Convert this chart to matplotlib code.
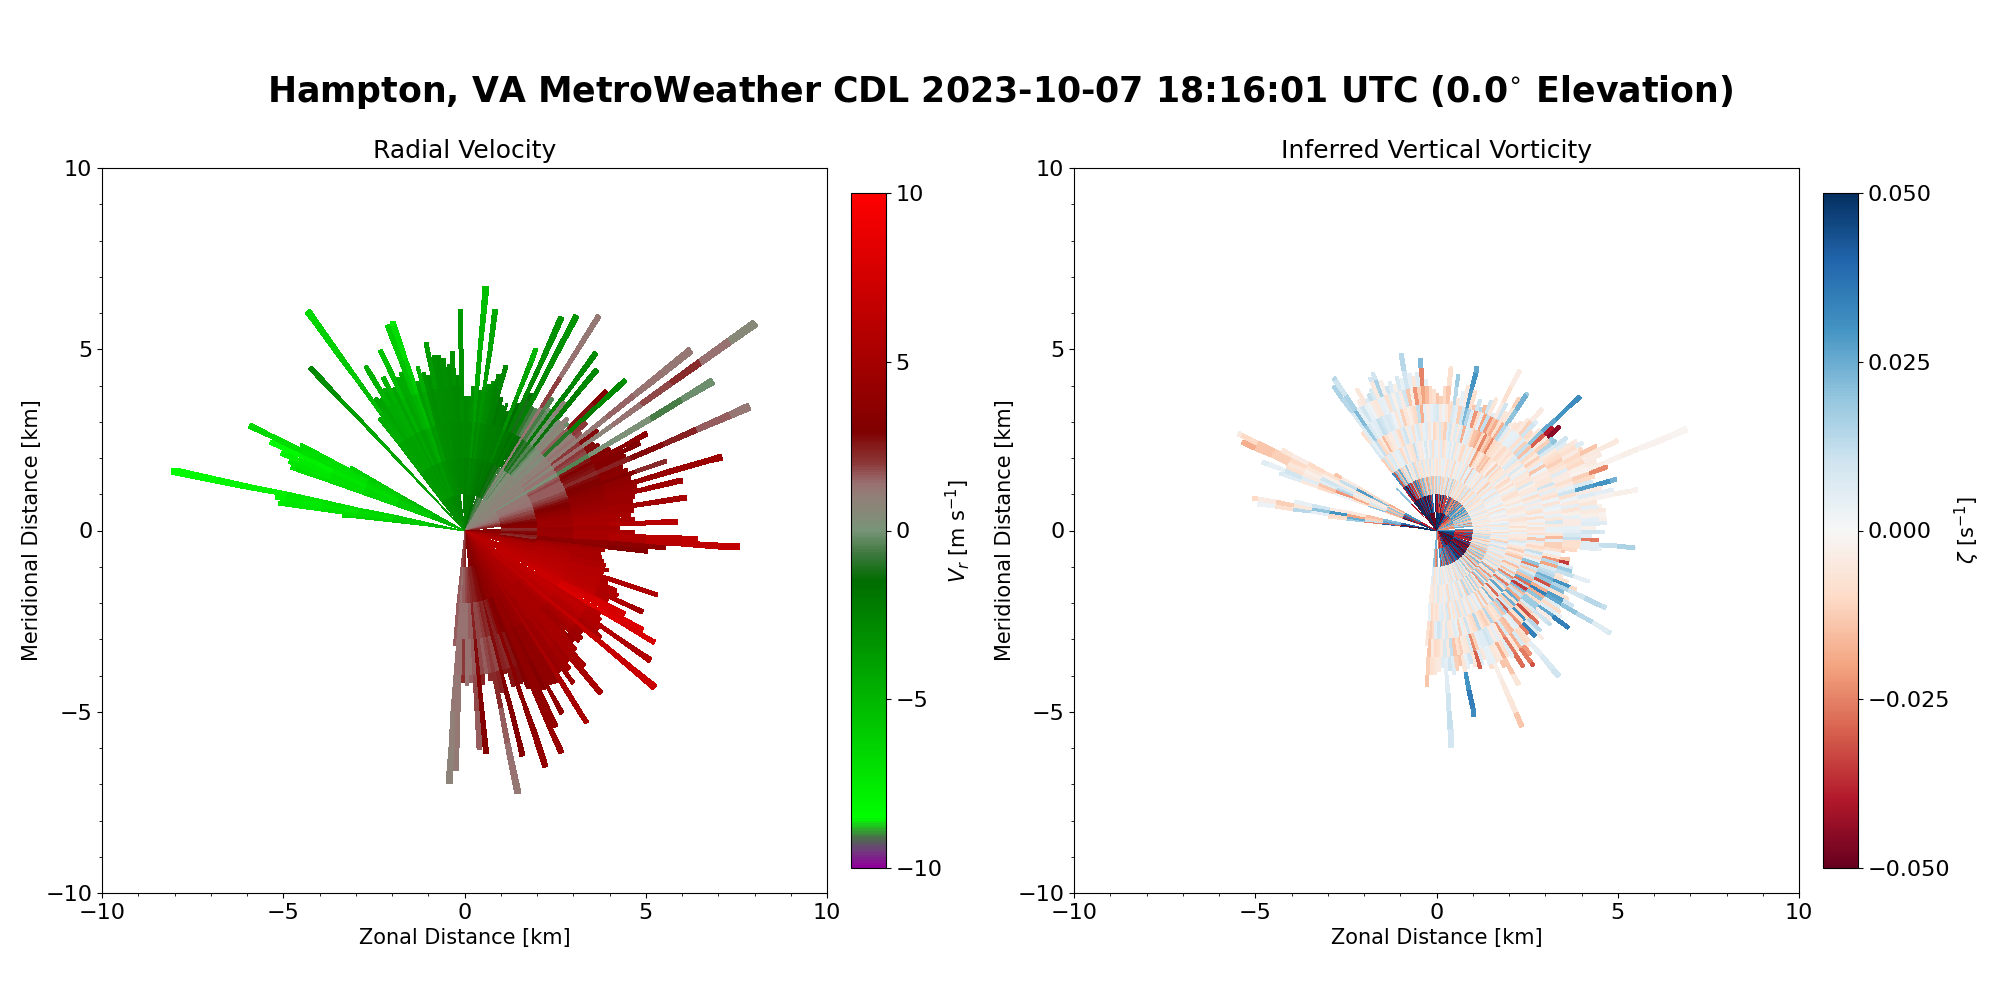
import numpy as np
import matplotlib
matplotlib.use("Agg")
import matplotlib.pyplot as plt
from matplotlib.colors import LinearSegmentedColormap

TITLE = r"Hampton, VA MetroWeather CDL 2023-10-07 18:16:01 UTC (0.0$^{\circ}$ Elevation)"
RING_V = 1.0   # km per velocity value along a ray
RING_Z = 0.5   # km per vorticity value along a ray

azimuths = [277,278.5,280,281.5,290,291.5,293,294.5,296,297.5,299,316.5,
 323,324.5,326,327.5,329,330.5,332,333.5,335,336.5,338,339.5,341,342.5,344,345.5,347,348.5,350,351.5,353,354.5,356,357.5,359,
 0.5,2,3.5,5,6.5,8,9.5,11,12.5,14,15.5,17,18.5,20,21.5,23,24.5,26,27.5,29,30.5,32,33.5,35,36.5,38,39.5,41,42.5,44,45.5,47,48.5,
 50,51.5,53,54.5,56,57.5,59,60.5,62,63.5,65,66.5,68,69.5,71,72.5,74,75.5,77,78.5,80,81.5,83,84.5,86,87.5,89,90.5,92,93.5,95,96.5,98,99.5,
 101,102.5,104,105.5,107,108.5,110,111.5,113,114.5,116,117.5,119,120.5,122,123.5,125,126.5,128,129.5,131,132.5,134,135.5,137,138.5,140,141.5,143,144.5,146,147.5,149,150.5,
 152,153.5,155,156.5,158,159.5,161,162.5,164,165.5,167,168.5,170,171.5,173,174.5,176,177.5,179,180.5,182,183.5,185]

vel_range = [3.4,5.2,5.3,8.25,5.1,5.2,5.5,5.9,6.6,5.1,3.6,6.2,
 3.9,7.44,4.4,4.3,5.3,4.5,4.8,4.4,5.5,4.6,4.7,6.05,6.1,4.3,4.7,4.5,4.4,5.3,4.9,4.9,4.8,4.6,4.95,4.3,6.1,
 3.7,3.7,4.0,6.76,3.9,6.16,4.1,4.2,4.4,4.7,3.8,3.6,3.7,3.5,5.4,3.8,6.47,4.2,6.68,3.9,3.9,7.0,4.4,4.1,6.1,4.5,5.74,4.0,4.2,4.1,5.5,6.08,4.5,
 4.2,8.0,4.6,9.85,4.3,4.4,8.0,4.6,5.7,5.4,4.9,8.57,4.7,4.8,5.9,4.8,7.39,4.9,6.17,4.8,4.7,6.2,4.7,4.6,4.7,5.9,4.3,4.7,6.45,7.62,5.57,5.1,3.9,3.8,
 3.85,3.92,4.0,4.12,4.0,5.62,4.2,4.5,4.6,5.42,4.4,5.0,5.64,6.08,4.4,4.5,6.25,4.6,4.78,6.81,4.3,4.4,4.4,4.3,4.5,5.0,5.86,4.6,4.8,5.18,4.7,6.3,4.9,4.86,
 5.72,4.9,5.98,6.7,4.7,4.5,6.89,4.5,4.1,6.43,4.6,7.4,4.2,4.0,4.3,6.2,6.07,4.2,4.3,4.2,6.64,7.0,3.2]

vel_rings = [
 [-5,-5.5,-6.2,-6.5],[-5,-6,-6.5,-7,-7.3,-7.5],[-5.5,-6,-6.8,-7.2,-7.5,-7.8],[-5,-6,-6.5,-7,-7.3,-7.8,-8,-8.2,-8.3],
 [-5,-5.8,-6.3,-6.8,-7,-7.2],[-5,-6,-6.5,-7,-7.3,-7.3],[-5,-6,-6.6,-7,-7.5,-7.8],[-5,-6,-6.8,-7.3,-7.8,-8.2],[-5,-5.8,-6.5,-7,-7,-6.8,-6.5],[-4.8,-5.5,-6.2,-6.8,-6.8,-6.5],[-4.5,-5.2,-6,-6.2],
 [-3.5,-4,-4,-4.2,-3.8,-3,-2.6],
 [-3,-3.5,-4,-4.5],[-3.2,-3.8,-4.2,-4.6,-5.2,-5.8,-6.2,-6.6],[-3,-3.6,-4,-4.4,-4.2],[-3,-3.5,-4,-4.2,-4.1],[-3,-3.6,-4,-4.4,-4.8,-4.6],[-3,-3.5,-4,-4.5,-4.4],[-3,-3.6,-4.1,-4.6,-4.8],[-3,-3.4,-3.8,-4.1,-4.2],
 [-3,-3.5,-4.2,-4.8,-5.2,-5.6],[-3,-3.4,-3.8,-4.2,-4.4],[-2.8,-3.3,-3.8,-4.4,-4.5],[-2.8,-3.5,-4.2,-4.8,-5.4,-6,-6.3],[-2.8,-3.6,-4.5,-5.2,-6,-6.8,-7.4],[-2.8,-3.2,-3.5,-3.8,-3.9],[-2.8,-3.2,-3.6,-4.2,-4.6],
 [-2.6,-3,-3.2,-3.2,-3.4],[-2.6,-2.9,-3,-3,-3.1],[-2.6,-2.9,-3,-3.2,-3.6,-3.9],[-2.5,-2.8,-2.9,-3,-3.1],[-2.5,-2.8,-3,-3,-3],[-2.5,-2.7,-2.8,-2.9,-3.1],[-2.4,-2.6,-2.8,-2.9,-2.9],[-2.4,-2.6,-2.7,-2.8,-3.2],[-2.4,-2.6,-2.6,-2.7,-2.8],[-2.4,-2.6,-2.8,-3,-3.2,-3.6,-3.8],
 [-2.3,-2.5,-2.7,-2.8],[-2.3,-2.5,-2.7,-2.9],[-2.3,-2.5,-2.8,-3.2],[-2.4,-2.8,-3.4,-3.8,-4.4,-5,-5.4],[-2.2,-2.5,-2.8,-3],[-2.2,-2.6,-3,-3.4,-3.8,-4.2,-4.4],[-2.2,-2.4,-2.6,-2.9,-3],[-2.2,-2.4,-2.6,-2.8,-2.9],[-2,-2.2,-2.4,-2.5,-2.6],
 [-1.8,-2.2,-2.3,-2.4,-2.7],[-1.6,-2,-2.3,-2],[-1.5,-2.1,-2.3,-2.2],[-1.3,-2,-2.2,-2.1],[-1,-1.8,-2.1,-1.8],[-1.2,-2,-2.6,-3.2,-4,-5],[-.8,-1.6,-2,-1.5],[-.8,-1.4,-2,-2.4,-2.8,-3.2,-3.4],[-.4,-1.2,-1.6,-1.2,-1.4],[-.6,-1.4,-2,-2.4,-2.8,-3.1,-3.3],
 [.2,-.8,-1.6,-.8],[.3,-.6,-1.5,-.4],[.5,.6,1,1.3,1.9,1.4,1.2,.9],[.4,-.2,-1.2,-.6,-.4],[.4,.2,-.8,-.2,.3],[.4,-.4,-1.2,-1.8,-2.4,-2.8,-3],[.5,.4,-.4,.2,.8],[.5,.2,-.8,-1.4,-2.2,-2.8],[.5,.5,-.2,.3],[.6,.6,.2,.8,1],[.6,.7,.3,.6,-.2],
 [.6,.5,.8,1.6,2.6,3.2],[.6,.4,.3,-1,-2.2,-2.8,-3.2],[.7,.8,.8,1,2],[.7,.9,1,1.3,1.8],[.7,.6,.8,1,1.2,1.5,1.3,1.2],[.8,1,1.3,2,2.8],[.7,.5,.6,1.4,.8,1.3,1.8,2.2,1.4,.6],[.8,1,1.3,2,2.8],[.8,1,1.3,1.8,2.8],
 [.5,.2,.1,-.4,.1,.2,-.6,-.1],[.9,1.2,1.6,2.6,3.2],[1,1.2,1.8,3,3.4,3.6],[1,1.2,1.6,2.8,3.2,3],[1,1.2,1.6,2.6,3.2],[1,1.3,1.6,2.2,2.4,2.8,2.4,1.6,1.2],[1,1.3,1.6,2.8,3.4],[1.1,1.4,1.8,3,3.6],[1.2,1.5,2,3,3.2,2.2],[1.3,1.6,2.4,3.4,3.8],[1.4,1.8,2.8,3.6,4,4.2,4.4,4.6],[1.5,1.8,3,3.8,4.2],
 [1.6,2,3.2,4,4.4,4.6,4.6],[1.8,2.2,3.6,4.2,4.4],[2,2.4,3.8,4.4,4.4],[2.2,2.8,4.2,4.6,4.8,4.8,5.2],[2.4,3,4.4,4.8,4.8],[2.6,3.2,4.6,5,5],[2.8,3.4,4.6,5,5],[3,3.6,4.8,5.2,5.6,6],[3,2.2,4.2,4.8,4.8],[3.2,2.4,4.4,5,5.2],
 [3.4,2.8,4.4,5,5.6,6.2,6.4],[3.6,3,4.6,5,5.4,6,6.4,6.6],[3.8,2.4,3.6,3.8,3.6,3.6],[4,2.2,3.4,3.6,3.2,3.2],[4.4,3.4,4.6,4.8],[4.6,4.2,5,5],[5,5,5.2,5.2],[5.2,5.2,5.4,5],[5.2,5.4,5.6,5.4,4.8],[5.4,5.4,5.6,5.4,4.8],[5.4,5.6,5.8,5.8],[5.6,5.8,6,5.8,5.4,5.4],
 [5.8,6,6,5.8,5.2],[5.8,6,6.2,6,5.4],[5.8,6.2,6.2,6,5.6],[6,6.2,6.4,6.2,5.4,4.8],[6,6.4,6.6,6.4,5.6],[6,6.4,7,7.4,7.6,7.2],[6,6.4,7,7.6,7.8,8,7.8],[6.2,6.4,7.2,8,8.2,7.8,7.6],[6,6.2,6.4,6.2,5.8],[6,6.4,6.6,6.4,5.6],[6,6.2,6.4,6.2,5.6,5.4,5.6],[5.8,6,6.2,5.8,5.4],[5.8,6,6,5.6,5],[5.8,6.4,6.6,6.6,6.6,6.8,7],[5.6,5.8,5.8,5.4,4.8],
 [5.6,5.6,5.4,5,4.6],[5.4,5.4,5.2,4.8,4.6],[5.4,5.2,5,4.6,4.2],[5.4,5.4,5.2,5,5],[5.2,5.4,5.2,5,5,5],[5.2,5.2,5,5,5,5],[5,5,5,4.8,4.6],[5,5,5,5,4.8],[5,5,4.8,4.6,4.4,4.4],[4.8,4.8,4.6,4.4,4.2],[4.8,5,5,5,5,5,5],[4.6,4.6,4.4,4,3.8],[4.6,4.4,4.2,3.8,3.8],
 [4.4,4.4,4.2,4,3.8,3.8],[4.4,4.2,3.8,3.4,3.2],[4.2,4.2,4,3.8,3.8,4],[4,4,4,3.8,3.8,4,4.2],[4,3.8,3.2,3,3.2],[3.8,3.6,3,2.6,2.8],[3.8,3.6,3.4,3.4,3.4,3.6,4],[3.6,3.4,2.6,2.2,2.6],[3.4,3,2.4,2.4,2.6],[3.4,3,2.8,2.8,3,3.2,3.2],[3.2,2.8,2.2,1.8,2.4],[3.2,2.8,2.4,2,2.2,1.6,1.4,1.2],
 [3.2,2.6,2,1.8,2.2],[3,2.4,1.8,1.6],[3,2.4,1.8,1.8,2.4],[2.8,2.2,2.4,2.8,3.2,3.2,3.2],[2.6,2,1.6,1.6,1.8,1.6,1.6],[2.6,2,1.6,1.4,1.6],[2.4,1.8,1.4,1.4,1.4],[2.2,1.6,1.4,2,2.2],[2.2,1.6,1.4,1.4,1.2,1.2,1.1],[2,1.4,1.4,1.4,1.2,1,.8,.8],[1.8,1.6,1.6],
]

vort_range = [3.0,5.0,5.15,4.0,4.6,5.18,4.5,5.9,6.1,4.8,3.2,1.6,
 3.4,4.9,5.09,4.0,4.2,4.5,4.1,4.2,4.3,4.6,4.7,4.4,4.2,4.3,4.2,4.4,4.3,4.98,4.4,4.3,4.4,4.78,4.2,4.0,3.9,
 3.8,3.7,4.0,4.56,3.6,4.35,3.7,3.9,4.1,4.65,4.0,3.6,3.8,3.6,3.7,3.9,4.02,3.6,4.98,4.0,3.8,4.3,4.54,3.6,3.7,3.8,4.0,4.46,4.1,3.8,4.0,5.43,4.3,
 4.45,4.1,4.14,4.41,4.3,4.6,4.7,4.6,5.0,5.6,5.0,4.8,7.45,5.03,4.6,4.5,5.17,4.7,5.0,5.66,4.5,4.6,4.7,4.7,4.7,4.71,4.4,4.66,4.3,4.5,5.51,4.6,3.9,3.6,
 3.5,3.76,3.76,3.9,3.9,4.44,3.7,3.9,4.2,5.14,3.9,4.1,4.3,5.59,4.0,4.1,4.2,4.53,4.0,4.1,3.7,3.8,4.0,4.2,4.0,3.8,5.26,4.1,4.3,4.59,4.0,4.45,4.1,4.0,
 4.84,4.2,4.0,5.91,4.1,3.8,3.9,4.0,3.9,3.8,3.9,5.23,3.8,3.9,4.0,3.9,6.02,3.8,3.9,4.0,4.0,4.31,3.2]

# one value per 0.5 km along each ray, in units of 0.001 s^-1
vort_rings = [
 [60,-50,40,-25,18,-8],[-60,45,-30,12,25,-10,5,14,-8,3],[50,-60,25,-12,-20,30,20,-6,-12,-4,-10],[-50,40,22,-15,-6,-4,10,4],
 [40,-30,-14,20,-6,3,-10,-5,6,8],[-45,50,-20,-10,-18,-22,-14,6,10,4,6],[60,-40,18,8,-6,14,6,-5,-8],[-50,40,-15,-4,4,8,10,-3,-6,-12,-14,-18],[45,-35,20,-5,-8,-4,-3,-6,-10,-12,-14,-10,-4],[-40,30,-12,22,28,12,-8,-10,-4,-6],[35,-28,-18,-10,-8,-4,-14],[30,-40,20],
 [-60,50,-40,32,-12,8,-8],[60,-55,45,-30,10,4,6,8,14,16],[-55,60,-50,20,-8,12,18,22,16,10,14],[50,-60,35,-15,6,-10,8,4],[-60,50,-40,25,8,-6,5,10,-4],[55,-55,30,-12,-5,-16,6,4,-6],[-50,45,-35,10,5,-8,12,3,6],[55,-60,20,-8,4,-5,10,-5,12],[-60,45,-30,18,6,-4,7,-6,8],[50,-50,35,-5,-10,4,8,5,-5,9],[-55,55,-25,8,-4,-6,6,4,16,10],[60,-45,30,-6,8,-10,3,-8,-3],[-50,50,-25,12,-5,6,-6,7,10],
 [55,-55,20,-10,-6,10,4,-3,6],[-60,40,-18,6,-8,-5,-12,6,-3],[50,-50,22,-8,12,5,-6,-4,8],[-55,60,-15,-6,6,-8,-3,10,4],[60,-40,12,8,-4,5,-7,-14,10,14],[-50,45,-20,-6,-5,8,-10,-3,5],[55,-35,18,7,3,-6,12,-22,-6],[-60,40,-12,-6,8,4,-18,-12,6],[45,-55,16,8,-3,6,5,-20,-25,22],[-50,45,-15,-5,6,-6,-4,-16,4],[55,-30,10,6,-8,3,4,-10],[-45,50,-14,-4,5,-10,6,-8],
 [60,-40,15,-7,4,-6,8,-14],[-55,35,-10,5,-5,8,-4,-12],[50,-45,12,-6,6,-9,3,-10],[-60,30,-14,4,-8,-12,-5,-14,-8,-6],[55,-35,9,5,-5,6,-10,-8],[-45,50,-12,-4,4,10,8,14,18,14],[60,-30,10,-8,6,-4,5,-6],[-50,40,-8,6,-3,7,-12,4],[45,-45,12,-5,8,-5,10,-4,-6],[-55,30,-16,5,-6,8,22,28,30,26],
 [50,-35,10,-10,4,-18,14,-8],[-40,45,-8,4,-7,5,6,-14],[55,-30,15,-5,-10,6,-22,10],[-50,35,-10,6,5,-8,-10,14],[45,-25,-12,4,-6,-14,5,-16],[-55,40,8,-6,4,-15,-20,10],[40,-35,-10,6,-8,-18,12,-6],[-45,30,7,-12,5,-10,-22,6],[50,-25,-8,4,-20,-24,-14,-4,-8,-4],
 [-40,35,-9,5,-10,-12,-18,10],[45,-30,8,-15,-5,-16,-8,-6],[-35,40,-7,6,-8,-24,-18,-6,-12],[40,-22,-10,5,-14,-10,14,20,24,18],[-30,35,12,-6,-12,-8,6,-5],[45,-28,-7,4,-16,-8,-5,-6,4],[-38,30,9,-5,-8,-6,4,-7],[40,-25,-12,5,-6,-10,4,-5,-3],[-30,35,8,-10,-3,-8,5,-12,-4],
 [35,-20,-6,6,-12,-5,-8,10,6],[-40,28,-10,-5,4,-8,6,-10],[-28,30,-8,5,-10,-5,-12,-6,-4],[30,-32,7,-8,-6,6,12,20,26,30,32],
 [35,-18,6,-12,-5,8,-15,-30,-40],[-30,25,-10,4,-6,-6,8,-5,-45],[35,-20,-5,-8,6,-4,-10,-12,18],[-28,30,8,-6,-4,8,-5,15,20],[32,-16,-8,5,-10,-3,-12,8,10],[-25,28,-6,4,-8,4,-6,-5,6,8],[30,-15,5,-9,-3,-6,5,-8,-6,-4],[-30,22,-4,6,-8,-5,-14,-10,-8,6],[25,-18,-8,4,-3,-7,3,-12,-4,-10],[-22,28,6,-5,4,-6,-5,-8,-10,-14,-8],[28,-14,-7,3,-6,8,-4,-6,-8,-5],[-25,20,5,-4,-8,-3,-6,6,-10,-4],[-20,22,-4,3,-7,-5,-6,-4,-3,-5],[24,-18,-6,6,-3,-5,10,-4,-2,-3,-2,-3,-2,-2,-1],
 [22,-14,8,-6,-3,4,-5,-8,-12,-24],[-24,18,-5,3,-6,-9,5,-4,-10],[-18,22,4,-8,3,-5,-6,4,8],[20,-16,-6,4,-5,5,-8,10,28,30,24],[22,-12,-5,3,-6,-4,3,-8,-4,-5],[-20,18,6,-3,-5,4,-7,3,6,5],[18,-24,-4,5,-3,-6,4,-5,-3,-2,-3,-2],[-24,16,-6,-3,4,-8,3,5,-6],[26,-20,5,-5,-6,3,-4,-7,5,-3],
 [-22,24,-4,3,-7,-8,4,-3,-5],[28,-26,-8,6,-4,3,-6,4,-3,-2],[-30,24,5,-6,-3,-5,8,-4,5,-3],[32,-22,-6,4,-8,3,-5,-4,6],[-26,30,-4,5,-3,-7,4,4,-3,3],[30,-34,8,-3,-6,-4,4,5,10,8],[-35,28,-5,-10,4,-8,-6,8,6],[35,-30,-7,5,-4,4,-16,12,-26],
 [-40,36,12,-6,-5,-14,5,-8,6,12,16,3],[42,-38,-10,5,-8,6,-12,-8,6,4],[-44,40,12,-5,8,-5,-12,-10],[45,-36,12,-12,4,-10,-8,-14],[-46,40,-9,8,-5,-6,3,-10],[48,-42,-14,5,-7,12,-6,-14],[-38,44,8,-4,-12,5,-22,-35],[46,-38,-8,10,-4,-8,14,6],[-40,46,14,-6,-10,4,-20,18],[50,-42,-10,6,-14,20,8,12,5],
 [-48,44,12,-4,6,-25,12,-6],[50,-46,-16,8,-6,10,14,-8],[-52,40,14,-10,6,-12,24,30,-10],[54,-44,-18,6,-15,8,20,15,10,14,12],[-50,50,16,-10,-8,14,-32,22],[52,-46,-12,10,6,-16,10,-8],[-54,44,20,-8,-14,26,-18,28,10],[56,-50,-14,12,8,-28,34,26,20,14,6,8],[-50,48,18,-6,-24,14,-18,6],[52,-44,-20,8,16,-35,20,-10],
 [-56,46,12,-18,-6,22,-10,6,4],[54,-48,-10,22,10,-16,18,26,34,36],[-50,52,22,-8,-26,12,18,-4],[48,-56,-16,10,14,-20,8,10,12],[-54,44,14,-22,-8,25,-12,-6],[50,-50,-24,12,26,-8,-32,-28],[-52,46,10,-16,-6,24,-10,14],[56,-42,-12,20,8,-12,30,6,-4],[-50,50,20,-6,-28,10,-8,34],[48,-46,-14,18,6,-30,-22,-26],
 [-46,44,8,-22,-10,16,6,-8,5,8,10],[50,-40,-16,6,22,-14,4,-10,-6],[-44,48,18,-10,-5,12,-16,8,-22],[46,-38,-6,14,6,-8,-14,-18,-26,-32],[-50,40,12,-8,-14,-6,8,-5],[42,-44,-10,16,5,-10,-22,-26,-28],[-46,36,8,-6,-12,14,-5,6,4],[44,-38,-14,12,4,-8,5,-8],
 [-40,42,10,-8,6,-12,-4,-18,-14,-6],[42,-34,-6,14,-5,-10,8,-5,-14],[-38,36,8,-12,6,-6,10,-6],[40,-30,-10,5,-8,14,6,4,-3,-5,-6,-14],[-34,38,12,-6,5,-10,6,4,-8],[36,-30,-5,10,-4,-8,5,-6],[-40,32,6,-8,8,-5,-12,7],[34,-36,-8,5,-6,10,-24,-30],[-30,38,10,-4,8,-5,8,-6],[36,-28,-6,8,-10,4,-6,10],[-32,30,8,-5,6,-12,-5,4],[32,-30,-4,7,-6,4,-12,-6,30,35,32],
 [-36,26,5,-10,4,6,-8,-14],[30,-34,-8,6,-10,-5,-14,-12],[-28,32,6,-4,8,-6,12,6],[30,-26,-6,5,-4,8,-5,10],[-26,30,8,-5,6,-4,8,5,6,10,12,9,8],[28,-28,4,-6,5,8,-5,6],[-30,24,-5,8,-6,10,-8,-5],[26,-26,6,-4,-8,5,-10,-6],[-24,28,-5,6,-6,-10,-5,-8],[24,-22,-8,-6,-10,-12,-14,-12,-14],[-22,20,6,-5,4,-8,-5],
]

vel_nodes = [(-10,(0.56,0.00,0.60)),(-9.55,(0.45,0.22,0.50)),(-9.15,(0.30,0.42,0.30)),(-8.55,(0.00,1.00,0.00)),
             (-1.5,(0.00,0.43,0.00)),(-0.7,(0.24,0.47,0.24)),(0.0,(0.47,0.58,0.47)),(1.0,(0.57,0.50,0.47)),(1.4,(0.60,0.44,0.44)),
             (2.0,(0.55,0.22,0.22)),(2.95,(0.50,0.00,0.00)),(10,(1.00,0.00,0.00))]
vel_cmap = LinearSegmentedColormap.from_list("vr", [((v + 10) / 20, c) for v, c in vel_nodes], N=256)

BEAM = np.radians(1.3)

def draw_rays(ax, az_list, range_list, rings_list, ring_km, cmap, vmin, vmax, scale=1.0):
    mesh = None
    for az, rng, rings in zip(az_list, range_list, rings_list):
        th = np.radians(az)
        n = int(np.ceil(rng / ring_km))
        vals = (list(rings) + [rings[-1]] * n)[:n]
        edges = np.minimum(np.arange(n + 1) * ring_km, rng)
        x = np.vstack([edges * np.sin(th - BEAM / 2), edges * np.sin(th + BEAM / 2)])
        y = np.vstack([edges * np.cos(th - BEAM / 2), edges * np.cos(th + BEAM / 2)])
        c = np.array(vals, dtype=float)[None, :] * scale
        mesh = ax.pcolormesh(x, y, c, cmap=cmap, vmin=vmin, vmax=vmax, shading="flat",
                             antialiased=False, linewidth=0, edgecolors="none")
    return mesh

def style(ax, title):
    ax.set_xlim(-10, 10)
    ax.set_ylim(-10, 10)
    ax.set_xticks([-10, -5, 0, 5, 10])
    ax.set_yticks([-10, -5, 0, 5, 10])
    ax.minorticks_on()
    ax.tick_params(labelsize=16)
    ax.set_title(title, fontsize=18, pad=7)
    ax.set_xlabel("Zonal Distance [km]", fontsize=15)
    ax.set_ylabel("Meridional Distance [km]", fontsize=15, labelpad=2)

W, H = 2000.0, 1000.0
fig = plt.figure(figsize=(20, 10), dpi=100)
fig.suptitle(TITLE, fontsize=25, fontweight="bold", x=0.5, y=0.908, va="center")

ax1 = fig.add_axes([102 / W, 1 - 893 / H, 725 / W, 725 / H])
ax2 = fig.add_axes([1074 / W, 1 - 893 / H, 725 / W, 725 / H])
cax1 = fig.add_axes([851 / W, 1 - 868 / H, 35 / W, 675 / H])
cax2 = fig.add_axes([1823 / W, 1 - 868 / H, 35 / W, 675 / H])

m1 = draw_rays(ax1, azimuths, vel_range, vel_rings, RING_V, vel_cmap, -10, 10)
m2 = draw_rays(ax2, azimuths, vort_range, vort_rings, RING_Z, "RdBu", -0.05, 0.05, scale=0.001)
style(ax1, "Radial Velocity")
style(ax2, "Inferred Vertical Vorticity")

cb1 = fig.colorbar(m1, cax=cax1, ticks=[-10, -5, 0, 5, 10])
cb1.set_label(r"$V_r$ [m s$^{-1}$]", fontsize=15, labelpad=0)
cb1.ax.tick_params(labelsize=16)
cb2 = fig.colorbar(m2, cax=cax2, ticks=[-0.05, -0.025, 0, 0.025, 0.05], format="%.3f")
cb2.set_label(r"$\zeta$ [s$^{-1}$]", fontsize=15, labelpad=2)
cb2.ax.tick_params(labelsize=16)
cb2.ax.set_yticklabels(["\u22120.050", "\u22120.025", "0.000", "0.025", "0.050"])

fig.savefig("out.png", dpi=100)
